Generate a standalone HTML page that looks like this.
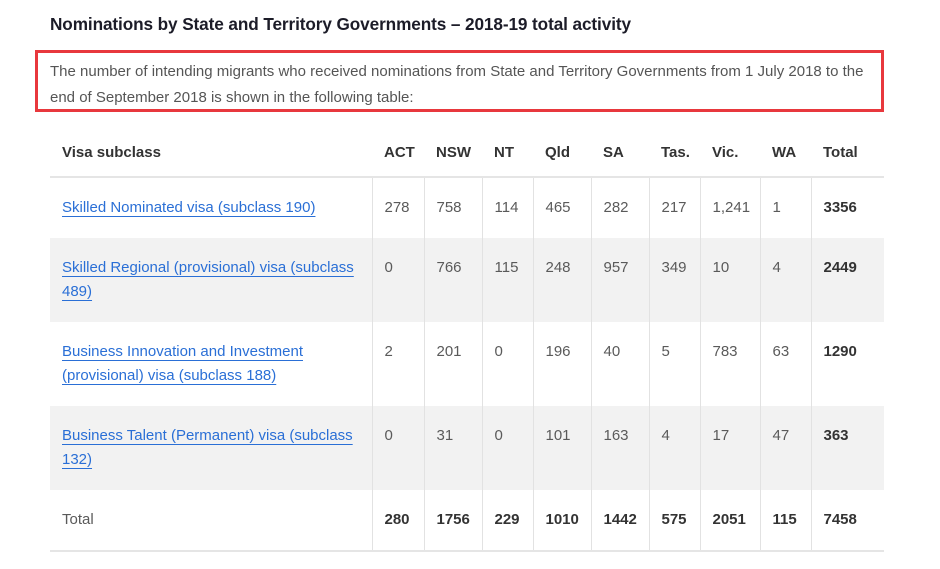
<!DOCTYPE html>
<html><head><meta charset="utf-8"><style>
body{margin:0;width:940px;height:569px;background:#fff;font-family:"Liberation Sans",sans-serif;overflow:hidden;position:relative}
h2{position:absolute;left:50px;top:14px;margin:0;font-size:17.2px;font-weight:bold;color:#1c1c28;letter-spacing:-0.1px}
.box{position:absolute;left:35px;top:50px;width:843px;height:56px;border:3px solid #e8383d}
.box p{margin:0;position:absolute;left:12px;top:6px;width:835px;font-size:15px;line-height:26px;color:#555}
table{position:absolute;left:50px;top:128px;border-collapse:collapse;table-layout:fixed;width:834px;font-size:15px;color:#5a5a5a}
th{font-weight:bold;color:#333;text-align:left;padding:0 0 0 12px;height:48px;border-bottom:2px solid #e5e5e5}
td{vertical-align:top;padding:18px 0 0 12px;line-height:24px;border-left:1px solid #e2e2e2;box-sizing:border-box}
td:first-child{border-left:none}
tr.g td{background:#f2f2f2}
a{color:#2a6fd6;text-decoration:underline;text-underline-offset:4px}
td b{color:#333}
tr.last td{border-bottom:2px solid #e5e5e5}
</style></head><body>
<h2>Nominations by State and Territory Governments – 2018-19 total activity</h2>
<div class="box"><p>The number of intending migrants who received nominations from State and Territory Governments from 1 July 2018 to the end of September 2018 is shown in the following table:</p></div>
<table>
<colgroup><col style="width:322px"><col style="width:52px"><col style="width:58px"><col style="width:51px"><col style="width:58px"><col style="width:58px"><col style="width:51px"><col style="width:60px"><col style="width:51px"><col style="width:73px"></colgroup>
<tr><th>Visa subclass</th><th>ACT</th><th>NSW</th><th>NT</th><th>Qld</th><th>SA</th><th>Tas.</th><th>Vic.</th><th>WA</th><th>Total</th></tr>
<tr style="height:61px"><td><a>Skilled Nominated visa (subclass 190)</a></td><td>278</td><td>758</td><td>114</td><td>465</td><td>282</td><td>217</td><td>1,241</td><td>1</td><td><b>3356</b></td></tr>
<tr class="g" style="height:84px"><td><a>Skilled Regional (provisional) visa (subclass 489)</a></td><td>0</td><td>766</td><td>115</td><td>248</td><td>957</td><td>349</td><td>10</td><td>4</td><td><b>2449</b></td></tr>
<tr style="height:84px"><td><a>Business Innovation and Investment (provisional) visa (subclass 188)</a></td><td>2</td><td>201</td><td>0</td><td>196</td><td>40</td><td>5</td><td>783</td><td>63</td><td><b>1290</b></td></tr>
<tr class="g" style="height:84px"><td><a>Business Talent (Permanent) visa (subclass 132)</a></td><td>0</td><td>31</td><td>0</td><td>101</td><td>163</td><td>4</td><td>17</td><td>47</td><td><b>363</b></td></tr>
<tr class="last" style="height:61px"><td>Total</td><td><b>280</b></td><td><b>1756</b></td><td><b>229</b></td><td><b>1010</b></td><td><b>1442</b></td><td><b>575</b></td><td><b>2051</b></td><td><b>115</b></td><td><b>7458</b></td></tr>
</table>
</body></html>
